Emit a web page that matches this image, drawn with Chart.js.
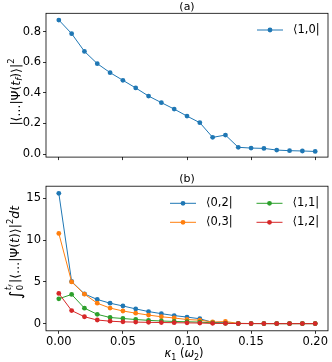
<!DOCTYPE html>
<html><head><meta charset="utf-8">
<script src="https://cdn.jsdelivr.net/npm/chart.js@4"></script>
<style>
html,body{margin:0;padding:0;background:#fff;}
#wrap{position:relative;width:332px;height:362px;overflow:hidden;background:#fff}
canvas{position:absolute;left:0}
</style>
</head><body>
<div id="wrap">
<canvas id="c1" width="332" height="170" style="top:0px"></canvas>
<canvas id="c2" width="332" height="192" style="top:170px"></canvas>
</div>
<script>
// ---- data ----
const kappa = [0.00,0.01,0.02,0.03,0.04,0.05,0.06,0.07,0.08,0.09,0.10,0.11,0.12,0.13,0.14,0.15,0.16,0.17,0.18,0.19,0.20];
const pop10 = [0.876,0.787,0.671,0.591,0.532,0.482,0.432,0.379,0.336,0.294,0.248,0.205,0.109,0.124,0.044,0.039,0.037,0.026,0.022,0.020,0.017];
const int02 = [15.6,5.05,3.56,2.9,2.45,2.12,1.77,1.45,1.2,0.97,0.79,0.59,0.16,0.1,0.03,0.02,0.02,0.01,0.01,0.01,0.01];
const int03 = [10.8,5.0,3.53,2.45,1.87,1.52,1.26,1.03,0.83,0.68,0.5,0.42,0.2,0.26,0.04,0.02,0.02,0.01,0.01,0.01,0.01];
const int11 = [2.98,3.5,1.86,1.12,0.74,0.62,0.5,0.4,0.32,0.27,0.23,0.19,0.1,0.05,0.02,0.02,0.01,0.01,0.01,0.01,0.01];
const int12 = [3.62,1.57,0.83,0.44,0.3,0.22,0.19,0.16,0.14,0.12,0.1,0.08,0.04,0.03,0.02,0.01,0.01,0.01,0.01,0.01,0.01];
const labels10 = '⟨1,0|';
const labelsBottom = ['⟨0,2|','⟨0,3|','⟨1,1|','⟨1,2|'];
const xTicks = [0,0.05,0.10,0.15,0.20];
const yTicksTop = [0,0.2,0.4,0.6,0.8];
const yTicksBottom = [0,5,10,15];

const C = {blue:'#1f77b4', orange:'#ff7f0e', green:'#2ca02c', red:'#d62728'};
const FONT = '"DejaVu Sans", sans-serif';

function pts(ys){ return kappa.map((x,i)=>({x:x, y:ys[i]})); }

function drawRich(ctx, segs, cx, cy, rot, baseSize){
  ctx.save();
  ctx.translate(cx, cy);
  ctx.rotate(rot);
  ctx.textBaseline = 'alphabetic';
  ctx.textAlign = 'left';
  let total = 0;
  segs.forEach(s=>{
    ctx.font = (s.it?'italic ':'') + (s.size||baseSize) + 'px ' + FONT;
    s.w = ctx.measureText(s.t).width;
    if (s.adv !== false) total += s.w + (s.sp||0);
  });
  let x = -total/2;
  const base = 0.36*baseSize;
  segs.forEach(s=>{
    ctx.font = (s.it?'italic ':'') + (s.size||baseSize) + 'px ' + FONT;
    ctx.fillStyle = '#000';
    ctx.fillText(s.t, x, base + (s.dy||0));
    if (s.adv !== false) x += s.w + (s.sp||0);
  });
  ctx.restore();
}

const deco = {
  id: 'deco',
  afterDraw(chart, args, o){
    const ctx = chart.ctx, a = chart.chartArea;
    ctx.save();
    ctx.strokeStyle = '#000'; ctx.lineWidth = 0.8;
    ctx.strokeRect(a.left, a.top, a.right - a.left, a.bottom - a.top);
    ctx.fillStyle = '#000';
    ctx.font = '11px ' + FONT; ctx.textAlign = 'center'; ctx.textBaseline = 'middle';
    ctx.fillText(o.title, (a.left + a.right)/2, o.titleY);
    if (o.ylabel) drawRich(ctx, o.ylabel, o.ylabelX, o.ylabelY, -Math.PI/2, 12.5);
    if (o.xlabel) drawRich(ctx, o.xlabel, o.xlabelX, o.xlabelY, 0, 11.5);
    (o.legend||[]).forEach(e=>{
      const ds = chart.data.datasets[e.i];
      ctx.strokeStyle = ds.borderColor; ctx.lineWidth = 1;
      ctx.beginPath(); ctx.moveTo(e.x, e.y); ctx.lineTo(e.x + 26, e.y); ctx.stroke();
      ctx.fillStyle = ds.pointBackgroundColor;
      ctx.beginPath(); ctx.arc(e.x + 13, e.y, 2.4, 0, Math.PI*2); ctx.fill();
      ctx.fillStyle = '#000'; ctx.textAlign = 'left'; ctx.textBaseline = 'middle';
      ctx.font = '11.5px ' + FONT;
      ctx.fillText(ds.label, e.x + 36, e.y);
    });
    ctx.restore();
  }
};

function ds(label, ys, col, order){
  return {label, data: pts(ys), borderColor: col, backgroundColor: col,
    pointBackgroundColor: col, pointBorderWidth: 0, pointRadius: 2.4,
    borderWidth: 1, tension: 0, order};
}

function makeChart(id, datasets, yMin, yMax, yTicks, yFmt, showX, padTop, xAxisH, decoOpts){
  return new Chart(document.getElementById(id), {
    type: 'line',
    data: {datasets},
    plugins: [deco],
    options: {
      responsive: false, animation: false, devicePixelRatio: 1,
      layout: {padding: {top: padTop, right: 2.5, left: 0, bottom: 0}},
      plugins: {legend: {display: false}, tooltip: {enabled: false}, deco: decoOpts},
      scales: {
        x: {type: 'linear', min: -0.01, max: 0.21,
          afterBuildTicks: s => { s.ticks = xTicks.map(v=>({value: v})); },
          afterFit: s => { s.height = xAxisH; },
          ticks: {color: '#000', font: {family: FONT, size: 11.5}, padding: 1, maxRotation: 0, autoSkip: false,
            callback: v => showX ? Number(v).toFixed(2) : ''},
          grid: {drawOnChartArea: false, drawTicks: true, tickLength: 3, color: '#000', lineWidth: 0.8},
          border: {display: false}},
        y: {type: 'linear', min: yMin, max: yMax,
          afterBuildTicks: s => { s.ticks = yTicks.map(v=>({value: v})); },
          afterFit: s => { s.width = 46; },
          ticks: {color: '#000', font: {family: FONT, size: 11.5}, padding: 2, autoSkip: false,
            callback: v => yFmt(Number(v))},
          grid: {drawOnChartArea: false, drawTicks: true, tickLength: 3, color: '#000', lineWidth: 0.8},
          border: {display: false}}
      }
    }
  });
}

const S = 8.5;
makeChart('c1', [ds(labels10, pop10, C.blue, 0)], -0.02, 0.92, yTicksTop, v=>v.toFixed(1), false, 13.3, 12.9, {
  title: '(a)', titleY: 6.7,
  ylabelX: 15, ylabelY: 92,
  ylabel: [{t:'|⟨...|Ψ('},{t:'t',it:true},{t:'f',it:true,size:S,dy:2.8},{t:')⟩|'},{t:'2',size:S,dy:-5.5}],
  legend: [{i:0, x:257, y:30}]
});

makeChart('c2', [
  ds(labelsBottom[0], int02, C.blue, 3),
  ds(labelsBottom[1], int03, C.orange, 2),
  ds(labelsBottom[2], int11, C.green, 1),
  ds(labelsBottom[3], int12, C.red, 0)
], -0.85, 16.45, yTicksBottom, v=>String(Math.round(v)), true, 16.2, 31.2, {
  title: '(b)', titleY: 9.2,
  ylabelX: 14, ylabelY: 82.5,
  ylabel: [{t:'∫',size:16,dy:2,sp:0.5},{t:'0',size:S,dy:4.5,adv:false},{t:'t',it:true,size:S,dy:-7.5},{t:'f',it:true,size:6,dy:-6,sp:2},
           {t:'|⟨...|Ψ('},{t:'t',it:true},{t:')⟩|'},{t:'2',size:S,dy:-5.5},{t:'dt',it:true}],
  xlabelX: 184, xlabelY: 183,
  xlabel: [{t:'κ',it:true},{t:'1',size:8,dy:2.5},{t:' ('},{t:'ω',it:true},{t:'2',size:8,dy:2.5},{t:')'}],
  legend: [{i:0, x:170, y:33.3},{i:2, x:256.5, y:33.3},{i:1, x:170, y:52.3},{i:3, x:256.5, y:52.3}]
});
</script>
</body></html>
